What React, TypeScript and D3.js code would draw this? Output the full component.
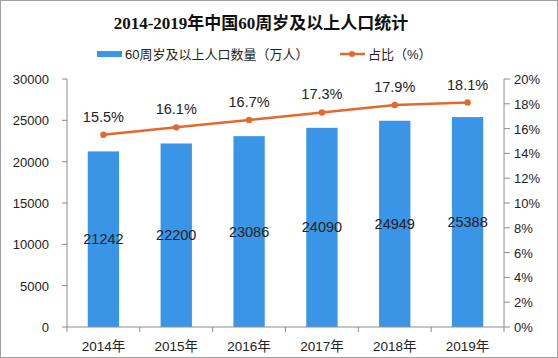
import React from 'react';
import * as d3 from 'd3';

const years = ['2014年', '2015年', '2016年', '2017年', '2018年', '2019年'];
const population = [21242, 22200, 23086, 24090, 24949, 25388];
const share = [15.5, 16.1, 16.7, 17.3, 17.9, 18.1];
const leftTicks = [0, 5000, 10000, 15000, 20000, 25000, 30000];
const rightTicks = [0, 2, 4, 6, 8, 10, 12, 14, 16, 18, 20];

const W = 558;
const H = 358;
const BAR = '#3b95e6';
const LINE = '#e4692c';
const AXIS = '#8c8c8c';
const FONT = '"SimSun", "Liberation Sans", "Noto Sans CJK SC", sans-serif';

export default function App() {
  const left = 67;
  const right = 504;
  const top = 79;
  const bottom = 327;

  const x = d3.scaleBand().domain(years).range([left, right]).padding(0);
  const yL = d3.scaleLinear().domain([0, 30000]).range([bottom, top]);
  const yR = d3.scaleLinear().domain([0, 20]).range([bottom, top]);
  const barW = x.bandwidth() * 0.43;
  const cx = (d: string) => (x(d) as number) + x.bandwidth() / 2;

  const line = d3
    .line<number>()
    .x((_, i) => cx(years[i]))
    .y((d) => yR(d));

  return (
    <div style={{ position: 'fixed', left: 0, top: 0 }}>
      <svg width={W} height={H} style={{ display: 'block', background: '#fff' }}>
        <rect x={0.5} y={0.5} width={W - 1} height={H - 1} fill="#fff" stroke="#a0a0a0" />

        <text x={261} y={29} textAnchor="middle" fontSize={17} fontWeight="bold"
          fontFamily='"Liberation Serif", "Noto Sans CJK SC", serif' fill="#111">
          2014-2019年中国60周岁及以上人口统计
        </text>

        {/* legend */}
        <rect x={97} y={51} width={25} height={6} fill={BAR} />
        <text x={125} y={59} fontSize={13} fontFamily={FONT} fill="#222">60周岁及以上人口数量（万人）</text>
        <line x1={340} x2={365} y1={54} y2={54} stroke={LINE} strokeWidth={2.5} />
        <circle cx={352} cy={54} r={3} fill={LINE} />
        <text x={368} y={59} fontSize={13} fontFamily={FONT} fill="#222">占比（%）</text>

        {/* bars */}
        {population.map((v, i) => (
          <rect key={years[i]} x={cx(years[i]) - barW / 2} y={yL(v)} width={barW}
            height={bottom - yL(v)} fill={BAR} />
        ))}
        {population.map((v, i) => (
          <text key={'v' + i} x={cx(years[i])} y={(yL(v) + bottom) / 2 + 5} textAnchor="middle"
            fontSize={14.5} fontFamily={FONT} fill="#222">{v}</text>
        ))}

        {/* left axis */}
        <line x1={left} x2={left} y1={top} y2={bottom} stroke={AXIS} />
        {leftTicks.map((t) => (
          <g key={'l' + t}>
            <line x1={left - 5} x2={left} y1={yL(t)} y2={yL(t)} stroke={AXIS} />
            <text x={49} y={yL(t) + 5} textAnchor="end" fontSize={13} fontFamily={FONT} fill="#222">{t}</text>
          </g>
        ))}

        {/* right axis */}
        <line x1={right} x2={right} y1={top} y2={bottom} stroke={AXIS} />
        {rightTicks.map((t) => (
          <g key={'r' + t}>
            <line x1={right} x2={right + 6} y1={yR(t)} y2={yR(t)} stroke={AXIS} />
            <text x={514} y={yR(t) + 5} fontSize={13} fontFamily={FONT} fill="#222">{t}%</text>
          </g>
        ))}

        {/* x axis */}
        <line x1={left} x2={right} y1={bottom} y2={bottom} stroke={AXIS} />
        {years.map((d) => (
          <line key={'t' + d} x1={x(d) as number} x2={x(d) as number} y1={bottom} y2={bottom + 5} stroke={AXIS} />
        ))}
        <line x1={right} x2={right} y1={bottom} y2={bottom + 5} stroke={AXIS} />
        {years.map((d) => (
          <text key={'x' + d} x={cx(d)} y={351} textAnchor="middle" fontSize={13.5} fontFamily={FONT} fill="#222">{d}</text>
        ))}

        {/* share line */}
        <path d={line(share) as string} fill="none" stroke={LINE} strokeWidth={2.5} />
        {share.map((v, i) => (
          <circle key={'c' + i} cx={cx(years[i])} cy={yR(v)} r={3.2} fill={LINE} />
        ))}
        {share.map((v, i) => (
          <text key={'s' + i} x={cx(years[i])} y={yR(v) - 13} textAnchor="middle" fontSize={14.5}
            fontFamily={FONT} fill="#222">{v.toFixed(1)}%</text>
        ))}
      </svg>
    </div>
  );
}
